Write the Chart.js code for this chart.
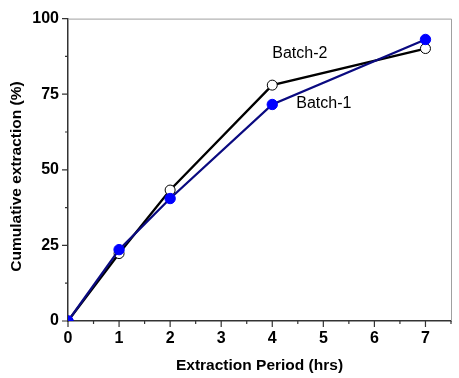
<!DOCTYPE html>
<html>
<head>
<meta charset="utf-8">
<script src="https://cdn.jsdelivr.net/npm/chart.js@4"></script>
<style>
  html, body { margin: 0; padding: 0; background: #fff; }
  #wrap { width: 459px; height: 378px; }
</style>
</head>
<body>
<div id="wrap"><canvas id="myChart"></canvas></div>
<script>
// extraction period (hrs)
const hours = [0, 1, 2, 4, 7];
// cumulative extraction (%)
const batch1 = [0, 23.6, 40.5, 71.6, 93.1];
const batch2 = [0, 22.3, 43.3, 78.0, 90.1];

const seriesLabels = ['Batch-1', 'Batch-2'];
const xTitle = 'Extraction Period (hrs)';
const yTitle = 'Cumulative extraction (%)';

const FONT = "'Liberation Sans', Arial, sans-serif";

// outward major/minor tick marks, plot frame, y title and series labels
const extras = {
  id: 'extras',
  afterDraw(chart) {
    const { ctx, chartArea: a, scales: { x, y } } = chart;
    ctx.save();
    // gray top and right frame
    ctx.strokeStyle = '#a0a0a0';
    ctx.lineWidth = 1;
    ctx.beginPath();
    ctx.moveTo(a.left, a.top + 0.5);
    ctx.lineTo(a.right + 0.5, a.top + 0.5);
    ctx.lineTo(a.right + 0.5, a.bottom);
    ctx.stroke();

    ctx.strokeStyle = '#333';
    ctx.lineWidth = 1.2;
    ctx.beginPath();
    x.ticks.forEach(t => {
      const px = x.getPixelForValue(t.value);
      const len = Number.isInteger(t.value) ? 6 : 3;
      ctx.moveTo(px, a.bottom);
      ctx.lineTo(px, a.bottom + len);
    });
    y.ticks.forEach(t => {
      const py = y.getPixelForValue(t.value);
      const len = t.value % 25 === 0 ? 6 : 3;
      ctx.moveTo(a.left, py);
      ctx.lineTo(a.left - len, py);
    });
    ctx.stroke();

    // y axis title
    ctx.fillStyle = '#000';
    ctx.font = 'bold 15.5px ' + FONT;
    ctx.textAlign = 'center';
    ctx.textBaseline = 'middle';
    ctx.translate(17, 176.5);
    ctx.rotate(-Math.PI / 2);
    ctx.fillText(yTitle, 0, 0);
    ctx.restore();

    // series labels
    ctx.save();
    ctx.fillStyle = '#000';
    ctx.font = '16px ' + FONT;
    ctx.textAlign = 'left';
    ctx.textBaseline = 'middle';
    ctx.fillText(seriesLabels[1], x.getPixelForValue(4.0), y.getPixelForValue(88.4));
    ctx.fillText(seriesLabels[0], x.getPixelForValue(4.47), y.getPixelForValue(72.0));
    ctx.restore();
  }
};

const ctx = document.getElementById('myChart').getContext('2d');

const myChart = new Chart(ctx, {
  type: 'line',
  data: {
    datasets: [
      {
        label: seriesLabels[0],
        data: hours.map((h, i) => ({ x: h, y: batch1[i] })),
        borderColor: '#0a0a80',
        borderWidth: 2.3,
        backgroundColor: '#0000ff',
        pointBackgroundColor: '#0000ff',
        pointBorderColor: '#0000ff',
        pointBorderWidth: 1,
        pointRadius: 5.2,
        tension: 0
      },
      {
        label: seriesLabels[1],
        data: hours.map((h, i) => ({ x: h, y: batch2[i] })),
        borderColor: '#000',
        borderWidth: 2.3,
        backgroundColor: '#fff',
        pointBackgroundColor: '#fff',
        pointBorderColor: '#000',
        pointBorderWidth: 1,
        pointRadius: 5,
        tension: 0
      }
    ]
  },
  options: {
    responsive: true,
    maintainAspectRatio: false,
    animation: false,
    layout: { padding: { left: 0, top: 12, right: 8, bottom: 0 } },
    plugins: {
      legend: { display: false },
      tooltip: { enabled: false }
    },
    scales: {
      x: {
        type: 'linear',
        min: 0,
        max: 7.5,
        afterFit: s => { s.height = 57; },
        grid: { display: false, drawTicks: false },
        border: { display: true, color: '#333', width: 1.5 },
        ticks: {
          stepSize: 0.5,
          padding: 8,
          maxRotation: 0,
          autoSkip: false,
          color: '#000',
          font: { family: FONT, size: 16, weight: 'bold' },
          callback: v => Number.isInteger(v) ? v : ''
        },
        title: {
          display: true,
          text: xTitle,
          color: '#000',
          font: { family: FONT, size: 15.5, weight: 'bold' },
          padding: { top: 0, bottom: 3 }
        }
      },
      y: {
        min: 0,
        max: 100,
        afterFit: s => { s.width = 68; },
        grid: { display: false, drawTicks: false },
        border: { display: true, color: '#333', width: 1.5 },
        ticks: {
          stepSize: 12.5,
          padding: 9,
          autoSkip: false,
          color: '#000',
          font: { family: FONT, size: 16, weight: 'bold' },
          callback: v => v % 25 === 0 ? v : ''
        }
      }
    }
  },
  plugins: [extras]
});
</script>
</body>
</html>
